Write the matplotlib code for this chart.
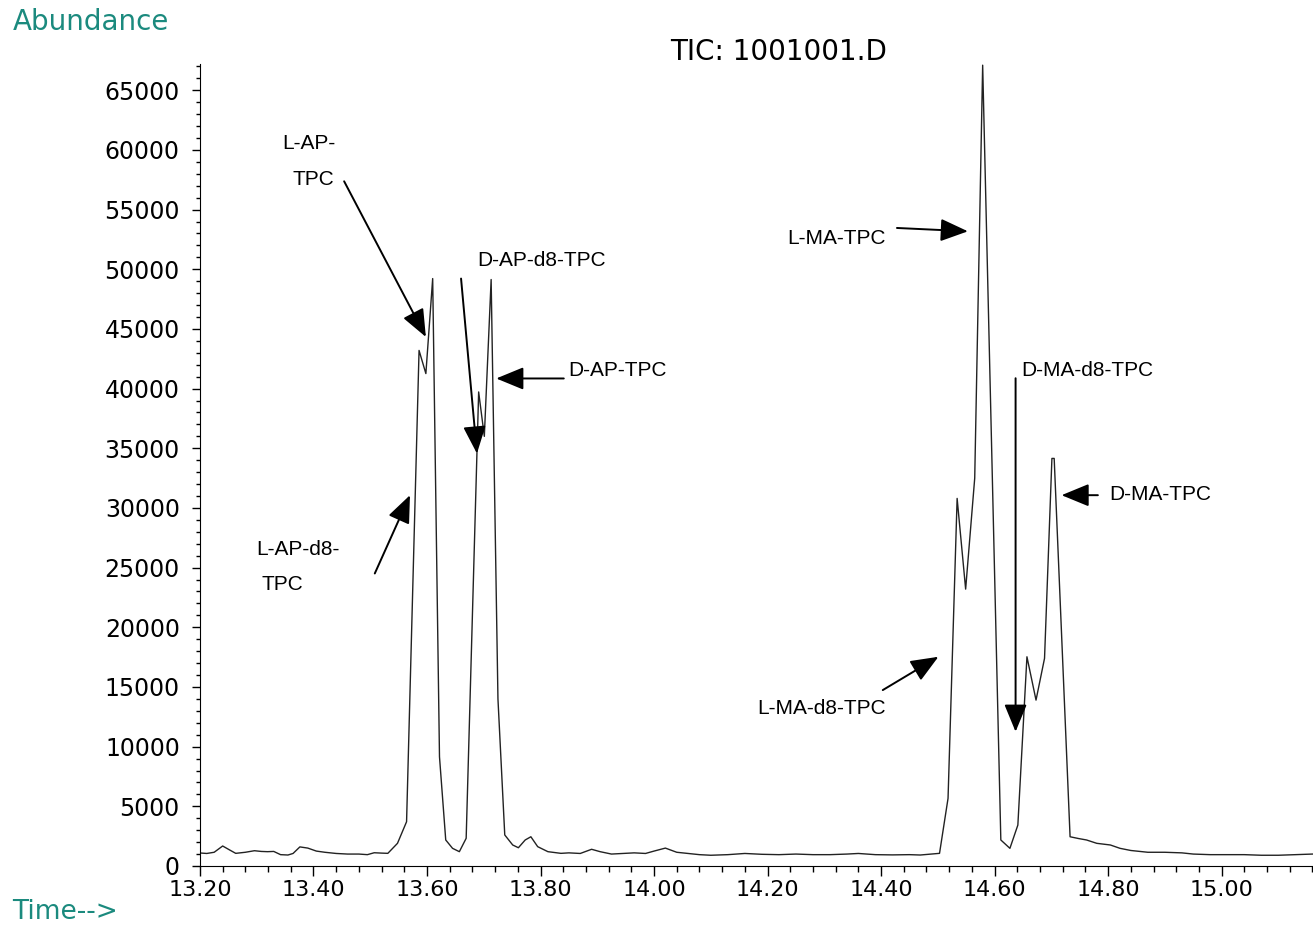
import numpy as np
import matplotlib
matplotlib.use("Agg")
import matplotlib.pyplot as plt
from matplotlib.ticker import MultipleLocator, FormatStrFormatter

# TIC trace (time in min, abundance)
time_min = [
    13.200, 13.212, 13.225, 13.240, 13.252, 13.263, 13.280, 13.296, 13.308, 13.319,
    13.330, 13.342, 13.355, 13.364, 13.376, 13.390, 13.405, 13.420, 13.440, 13.460,
    13.480, 13.495, 13.507, 13.520, 13.531, 13.548, 13.564, 13.586, 13.598, 13.610,
    13.622, 13.633, 13.645, 13.657, 13.669, 13.691, 13.701, 13.713, 13.725, 13.737,
    13.751, 13.761, 13.773, 13.783, 13.795, 13.813, 13.836, 13.850, 13.870, 13.890,
    13.905, 13.925, 13.945, 13.965, 13.985, 14.000, 14.020, 14.040, 14.060, 14.080,
    14.100, 14.130, 14.160, 14.190, 14.220, 14.250, 14.280, 14.310, 14.340, 14.360,
    14.390, 14.420, 14.450, 14.469, 14.503, 14.518, 14.534, 14.549, 14.565, 14.579,
    14.611, 14.627, 14.641, 14.657, 14.673, 14.688, 14.701, 14.705, 14.733, 14.748,
    14.762, 14.780, 14.804, 14.821, 14.840, 14.870, 14.900, 14.930, 14.950, 14.980,
    15.010, 15.040, 15.070, 15.100, 15.130, 15.160,
]
abundance = [
    1090, 1050, 1150, 1675, 1350, 1060, 1150, 1280, 1220, 1200,
    1220, 950, 920, 1050, 1600, 1500, 1250, 1150, 1050, 1000,
    1000, 950, 1110, 1080, 1060, 1900, 3710, 43200, 41260, 49220,
    9150, 2180, 1480, 1200, 2320, 39720, 36000, 49140, 14000, 2600,
    1760, 1530, 2180, 2450, 1620, 1200, 1060, 1100, 1050, 1400,
    1200, 1000, 1050, 1100, 1050, 1250, 1500, 1150, 1050, 950,
    900, 950, 1050, 980, 950, 1000, 950, 950, 1000, 1050,
    950, 930, 950, 920, 1060, 5670, 30800, 23200, 32500, 67100,
    2180, 1480, 3430, 17530, 13900, 17400, 34150, 34150, 2450, 2300,
    2180, 1900, 1760, 1480, 1300, 1150, 1150, 1100, 1000, 950,
    950, 950, 900, 900, 950, 1000,
]

# peak labels: text, arrow tail, arrow tip
peak_labels = ["L-AP-\nTPC", "L-AP-d8-\nTPC", "D-AP-d8-TPC", "D-AP-TPC",
               "L-MA-TPC", "L-MA-d8-TPC", "D-MA-d8-TPC", "D-MA-TPC"]
arrow_tail = [(13.454, 57370), (13.508, 24510), (13.660, 49220), (13.841, 40850),
              (14.428, 53460), (14.403, 14740), (14.637, 40870), (14.782, 31070)]
arrow_tip = [(13.598, 44330), (13.570, 31070), (13.688, 34560), (13.722, 40850),
             (14.553, 53180), (14.501, 17530), (14.637, 11250), (14.718, 31070)]

teal = "#1b8a7e"

fig = plt.figure(figsize=(13.13, 9.26), dpi=100)
ax = fig.add_axes([0.1523, 0.0648, 0.8477, 0.8661])

ax.plot(time_min, abundance, color="#222222", lw=1.0)

ax.set_xlim(13.20, 15.161)
ax.set_ylim(0, 67200)
ax.spines["top"].set_visible(False)
ax.spines["right"].set_visible(False)

ax.xaxis.set_major_locator(MultipleLocator(0.2))
ax.xaxis.set_minor_locator(MultipleLocator(0.04))
ax.xaxis.set_major_formatter(FormatStrFormatter("%.2f"))
ax.yaxis.set_major_locator(MultipleLocator(5000))
ax.yaxis.set_minor_locator(MultipleLocator(1000))

ax.tick_params(axis="x", which="major", length=7.2, width=1, pad=3,
               labelsize=16, direction="out")
ax.tick_params(axis="x", which="minor", length=4.3, width=1, direction="out")
ax.tick_params(axis="y", which="major", length=5.5, width=1, pad=9,
               labelsize=17, direction="out")
ax.tick_params(axis="y", which="minor", length=3.1, width=1, direction="out")
for lab in ax.get_xticklabels() + ax.get_yticklabels():
    lab.set_family("DejaVu Sans")

# peak names + arrows
text_pos = [(13.392, 60550), (13.299, 26550), (13.801, 50750), (13.848, 41540),
            (14.409, 52600), (14.409, 13230), (14.647, 41540), (14.802, 31160)]
text_ha = ["center", "left", "center", "left", "right", "right", "left", "left"]
for lab, pos, ha in zip(peak_labels, text_pos, text_ha):
    if "\n" in lab:
        first, second = lab.split("\n")
        ax.text(pos[0], pos[1], first, ha=ha, va="center", fontsize=15,
                family="Liberation Sans")
        ax.text(pos[0] + (0.007 if ha == "center" else 0.009), pos[1] - 3000, second,
                ha=ha, va="center", fontsize=15, family="Liberation Sans")
    else:
        ax.text(pos[0], pos[1], lab, ha=ha, va="center", fontsize=15,
                family="Liberation Sans")

for tail, tip in zip(arrow_tail, arrow_tip):
    ax.annotate("", xy=tip, xytext=tail,
                arrowprops=dict(arrowstyle="-|>,head_length=1.7,head_width=0.7",
                                color="black", lw=1.4, shrinkA=0, shrinkB=0,
                                mutation_scale=10))

fig.text(0.0099, 0.976, "Abundance", color=teal, fontsize=20,
         family="DejaVu Sans", va="center", ha="left")
fig.text(0.009, 1 - 912 / 926, "Time-->", color=teal, fontsize=19,
         family="DejaVu Sans", va="center", ha="left")
fig.text(779 / 1313, 1 - 52 / 926, "TIC: 1001001.D", color="black", fontsize=20,
         family="DejaVu Sans", va="center", ha="center")

fig.savefig("out.png", dpi=100)
